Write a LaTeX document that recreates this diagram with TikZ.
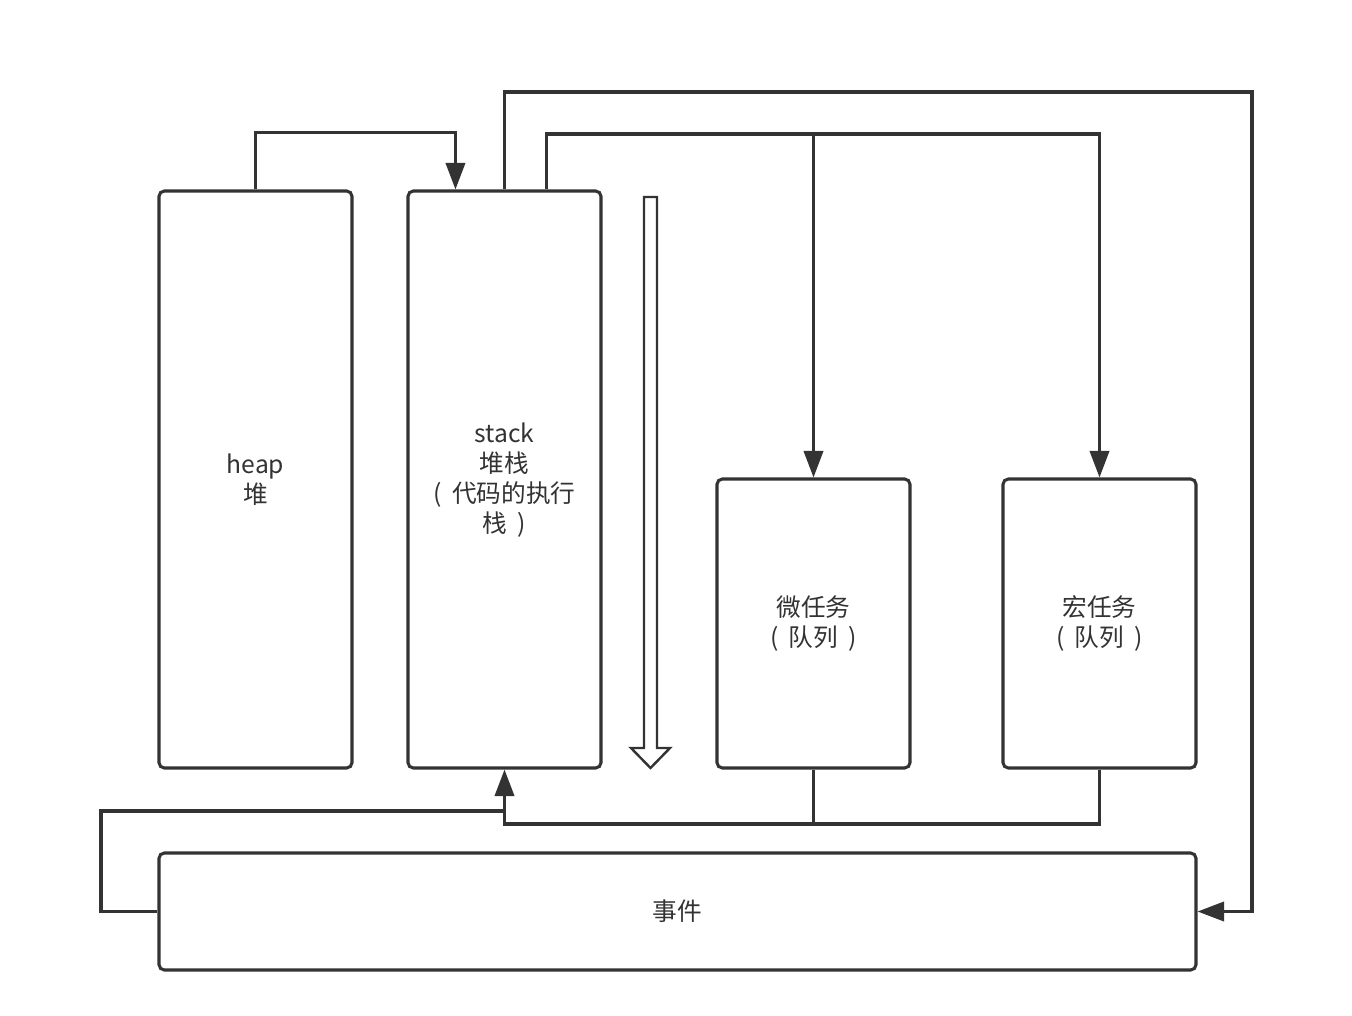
\documentclass[tikz,border=0pt]{standalone}
\usepackage{fontspec}
\setmainfont{Noto Sans CJK SC}
\usetikzlibrary{arrows.meta,calc}
\definecolor{ink}{HTML}{333333}
\newcommand{\pgap}{\hspace{0.42em}}
\begin{document}
\begin{tikzpicture}[x=0.75pt,y=-0.75pt,
  lbl/.style={text=ink,font=\fontsize{18.5pt}{22.5pt}\selectfont,align=center},
  box/.style={draw=ink,line width=2.3pt,rounded corners=4pt,fill=white,lbl,inner sep=0pt},
  conn/.style={draw=ink,line width=2.3pt},
  arr/.style={conn,-{Triangle[length=20pt,width=14.5pt]}}]
\useasboundingbox (0,0) rectangle (1352,1016);
\node[box,minimum width=144.75pt,minimum height=432.75pt] (heap) at (255.5,479.5) {heap\\堆};
\node[box,minimum width=144.75pt,minimum height=432.75pt] (stack) at (504.5,479.5) {};
\node[lbl,inner sep=0pt] (stacktxt) at (504.5,480) {stack\\堆栈\\(\pgap 代码的执行\\栈\pgap )};
\node[box,minimum width=144.75pt,minimum height=216.75pt] (micro) at (813.5,623.5) {微任务\\(\pgap 队列\pgap )};
\node[box,minimum width=144.75pt,minimum height=216.75pt] (macro) at (1099.5,623.5) {宏任务\\(\pgap 队列\pgap )};
\node[box,minimum width=777.75pt,minimum height=87.75pt] (event) at (677.5,911.5) {事件};
% hollow arrow
\draw[ink,line width=1.8pt,line join=miter,fill=white] (644,197) -- (657,197) -- (657,748) -- (670,748) -- (650.5,768) -- (631,748) -- (644,748) -- cycle;
% coordinates
\coordinate (yA) at (0,134);
\coordinate (yB) at (0,92);
\coordinate (xR) at (1252,0);
\coordinate (yBus) at (0,824);
\coordinate (yLoop) at (0,811);
\coordinate (xL) at (101,0);
% connectors
\draw[arr] (heap.north) |- ($(stack.north west)+(49,-57)$) -- ($(stack.north west)+(49,0)$);
\draw[arr] (stack.north) |- (xR |- yB) |- (event.east);
\draw[arr] ($(stack.north west)+(140,0)$) |- (macro.north |- yA) -- (macro.north);
\draw[arr] (micro.north |- yA) -- (micro.north);
\draw[conn] (micro.south) -- (micro.south |- yBus);
\draw[arr] (macro.south) |- (stack.south |- yBus) -- (stack.south);
\draw[conn] (event.west) -| (xL |- yLoop) -- (stack.south |- yLoop);
\end{tikzpicture}
\end{document}
